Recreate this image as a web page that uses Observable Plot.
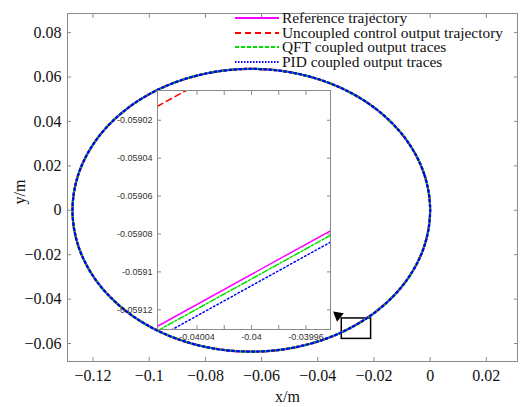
<!DOCTYPE html>
<html><head><meta charset="utf-8">
<script src="https://cdn.jsdelivr.net/npm/d3@7"></script>
<script src="https://cdn.jsdelivr.net/npm/@observablehq/plot@0.6"></script>
<style>
body{margin:0;background:#fff;}
#wrap{position:relative;width:528px;height:407px;overflow:hidden;font-family:"Liberation Serif","Times New Roman",serif;}
#inset{position:absolute;left:97px;top:85px;}
#legend{position:absolute;left:0;top:0;width:528px;height:80px;pointer-events:none;}
.lrow{position:absolute;left:233px;height:14px;white-space:nowrap;}
.lrow svg{position:absolute;left:0;top:0;}
.lrow span{position:absolute;left:49px;top:0;height:14px;line-height:14px;font-size:15.4px;color:#111;font-family:"Liberation Serif","Times New Roman",serif;}
</style></head><body><div id="wrap"><div id="mainp"></div><div id="inset"></div><div id="legend"></div></div>
<script>
// ---- data ----
const seriesNames = ["Reference trajectory","Uncoupled control output trajectory","QFT coupled output traces","PID coupled output traces"];
const trajX = [0.0000,-0.00217,-0.00853,-0.01865,-0.03183,-0.04718,-0.06366,-0.08014,-0.09549,-0.10867,-0.11879,-0.12515,
               -0.12732,-0.12515,-0.11879,-0.10867,-0.09549,-0.08014,-0.06366,-0.04718,-0.03183,-0.01865,-0.00853,-0.00217];
const trajY = [0,0.01648,0.03183,0.04501,0.05513,0.06149,0.06366,0.06149,0.05513,0.04501,0.03183,0.01648,
               0,-0.01648,-0.03183,-0.04501,-0.05513,-0.06149,-0.06366,-0.06149,-0.05513,-0.04501,-0.03183,-0.01648];
const xTicks = [-0.12,-0.1,-0.08,-0.06,-0.04,-0.02,0,0.02];
const yTicks = [-0.06,-0.04,-0.02,0,0.02,0.04,0.06,0.08];
const zoomBoxX = [-0.03146,-0.02102];
const zoomBoxY = [-0.05792,-0.04872];
const arrowX = [-0.03280];
const arrowY = [-0.04740];
const insetX = [-0.040069,-0.039942];
const insetRefY = [-0.0591287,-0.0590783];
const insetUncY = [-0.0590126,-0.0589622];
const insetQftY = [-0.0591311,-0.0590807];
const insetPidY = [-0.0591347,-0.0590843];
const insetXTicks = [-0.04004,-0.04002,-0.04,-0.03998,-0.03996];
const insetXLabels = [-0.04004,-0.04,-0.03996];
const insetYTicks = [-0.05912,-0.0591,-0.05908,-0.05906,-0.05904,-0.05902];

// ---- styles ----
const STY = [
  {stroke:"#ff00ff", strokeWidth:2.2},
  {stroke:"#ff0000", strokeWidth:2.2, strokeDasharray:"6,4"},
  {stroke:"#00e000", strokeWidth:2.2, strokeDasharray:"6,2,2,2"},
  {stroke:"#0000ff", strokeWidth:2.2, strokeDasharray:"2,3"}
];
const INSET_DASH = [null, "6,4", "6,2,2,2", "1.5,2.5"];
const traj = trajX.map((x,i)=>({x, y:trajY[i]}));
const fmtMain = d => d === 0 ? "0" : (d < 0 ? "\u2212" : "") + String(Math.abs(d));
const fmtInset = d => String(+d.toFixed(5));
const gray = "#8a8a8a";

const main = Plot.plot({
  width:528, height:407, marginLeft:67, marginRight:11, marginTop:13, marginBottom:46,
  x:{domain:[-0.1291,0.0311]}, y:{domain:[-0.0681,0.0886]},
  style:{fontFamily:"Liberation Serif, Times New Roman, serif", fontSize:"16px", color:"#111", background:"#fff"},
  marks:[
    Plot.frame({stroke:gray}),
    Plot.axisX(xTicks,{anchor:"bottom", tickSize:4, dy:-4, fill:"none", stroke:gray, label:null}),
    Plot.axisX(xTicks,{anchor:"top", tickSize:4, dy:4, fill:"none", stroke:gray, label:null}),
    Plot.axisY(yTicks,{anchor:"left", tickSize:4, dx:4, fill:"none", stroke:gray, label:null}),
    Plot.axisY(yTicks,{anchor:"right", tickSize:4, dx:-4, fill:"none", stroke:gray, label:null}),
    Plot.axisX(xTicks,{anchor:"bottom", tickSize:0, tickPadding:8, tickFormat:fmtMain, label:null, fill:"#111"}),
    Plot.axisY(yTicks,{anchor:"left", tickSize:0, tickPadding:6, tickFormat:fmtMain, label:null, fill:"#111"}),
    Plot.text(["x/m"],{text:d=>d, frameAnchor:"bottom", dy:40, dx:-5, fontSize:16, fill:"#111"}),
    Plot.text(["y/m"],{text:d=>d, frameAnchor:"left", rotate:-90, dx:-48, dy:17, fontSize:16, fill:"#111"}),
    Plot.rect([{x1:zoomBoxX[0], x2:zoomBoxX[1], y1:zoomBoxY[0], y2:zoomBoxY[1]}],
      {x1:"x1", x2:"x2", y1:"y1", y2:"y2", fill:"none", stroke:"black", strokeWidth:1.5}),
    Plot.dot(arrowX.map((x,i)=>({x, y:arrowY[i]})),{x:"x", y:"y", symbol:"triangle2", r:5.2, rotate:-51, fill:"black", stroke:"none"}),
    ...STY.map(s => Plot.line(traj,{x:"x", y:"y", curve:"catmull-rom-closed", ...s}))
  ]
});
document.getElementById("mainp").appendChild(main);

const insetSeries = [insetRefY, insetUncY, insetQftY, insetPidY];
const inset = Plot.plot({
  width:238, height:264, marginLeft:60, marginRight:5, marginTop:5, marginBottom:20,
  x:{domain:[-0.040069,-0.039942]}, y:{domain:[-0.0591304,-0.0590043]},
  style:{fontFamily:"Liberation Sans, Arial, sans-serif", fontSize:"9px", color:"#333", background:"transparent"},
  marks:[
    Plot.frame({fill:"white", stroke:"none"}),
    ...insetSeries.map((ys,k) => Plot.line(insetX.map((x,i)=>({x, y:ys[i]})),{x:"x", y:"y", clip:true, stroke:STY[k].stroke, strokeWidth:1.5, strokeDasharray: INSET_DASH[k]})),
    Plot.frame({stroke:gray}),
    Plot.axisX(insetXTicks,{anchor:"bottom", tickSize:4, dy:-4, fill:"none", stroke:gray, label:null}),
    Plot.axisX(insetXTicks,{anchor:"top", tickSize:4, dy:4, fill:"none", stroke:gray, label:null}),
    Plot.axisY(insetYTicks,{anchor:"left", tickSize:4, dx:4, fill:"none", stroke:gray, label:null}),
    Plot.axisY(insetYTicks,{anchor:"right", tickSize:4, dx:-4, fill:"none", stroke:gray, label:null}),
    Plot.axisX(insetXLabels,{anchor:"bottom", tickSize:0, tickPadding:4, tickFormat:fmtInset, label:null, fill:"#333"}),
    Plot.axisY(insetYTicks,{anchor:"left", tickSize:0, tickPadding:5, tickFormat:fmtInset, label:null, fill:"#333"})
  ]
});
document.getElementById("inset").appendChild(inset);

// legend
const leg = document.getElementById("legend");
const legDash = [null, "6,4", "4,2", "1.5,1.5"];
seriesNames.forEach((name,i) => {
  const row = document.createElement("div");
  row.className = "lrow";
  row.style.top = (11 + i*14.7) + "px";
  const s = STY[i];
  row.innerHTML = `<svg width="48" height="14"><line x1="2" x2="46" y1="7" y2="7" stroke="${s.stroke}" stroke-width="2" ${legDash[i] ? `stroke-dasharray="${legDash[i]}"` : ""}/></svg><span>${name}</span>`;
  leg.appendChild(row);
});
</script>
</body></html>
